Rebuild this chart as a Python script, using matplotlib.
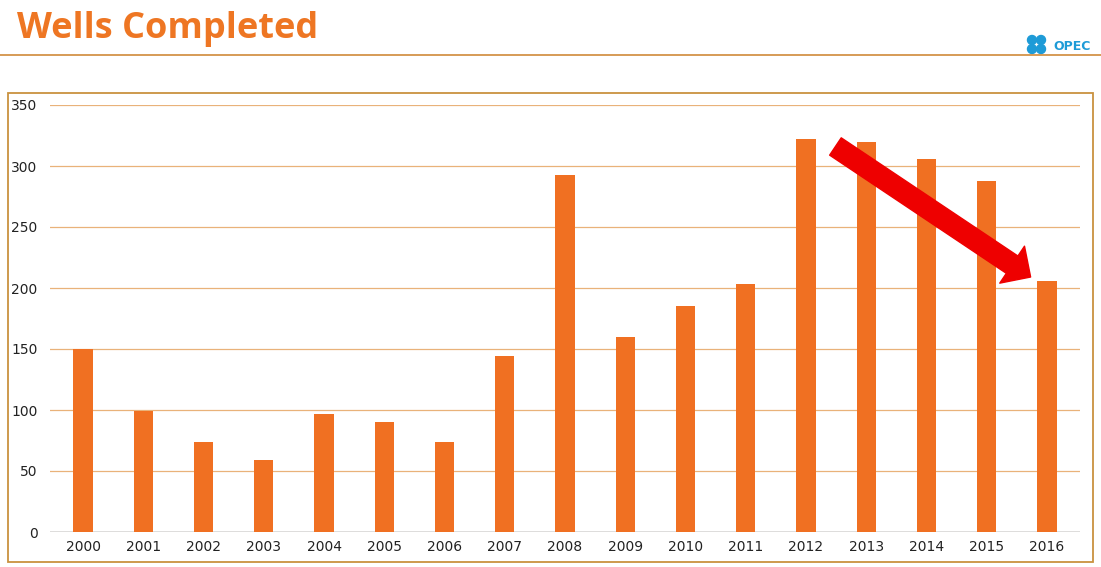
import matplotlib
matplotlib.use("Agg")
import matplotlib.pyplot as plt
import matplotlib.patches as mpatches
from matplotlib.lines import Line2D

# datos
anios = ["2000", "2001", "2002", "2003", "2004", "2005", "2006", "2007", "2008",
         "2009", "2010", "2011", "2012", "2013", "2014", "2015", "2016"]
pozos = [150, 99, 74, 59, 97, 90, 74, 144, 293, 160, 185, 203, 322, 320, 306, 288, 206]
yticks = [0, 50, 100, 150, 200, 250, 300, 350]

naranja = "#F07022"
W, H = 1101, 567

fig = plt.figure(figsize=(W / 100, H / 100), dpi=100)
fig.patch.set_facecolor("white")

# titulo y linea del encabezado
fig.text(17 / W, 1 - 29 / H, "Wells Completed", color="#EE7623", fontsize=26,
         fontweight="bold", fontfamily="Open Sans", ha="left", va="center")
fig.add_artist(Line2D([0, 1], [1 - 55 / H, 1 - 55 / H], color="#D08A3A", lw=1.2,
                      transform=fig.transFigure))

# logo OPEC (simplificado), en pulgadas
for dx, dy in [(0, 0), (9, 0), (0, 9), (9, 9)]:
    fig.add_artist(mpatches.Circle(((1032 + dx) / 100, (H - 40 - dy) / 100), 0.045,
                                   color="#1E9BD7", transform=fig.dpi_scale_trans))
fig.text(1053 / W, 1 - 46 / H, "OPEC", color="#1E9BD7", fontsize=9,
         fontweight="bold", ha="left", va="center")

# marco del grafico
fig.add_artist(mpatches.Rectangle((8 / W, 1 - 562 / H), (1093 - 8) / W, (562 - 93) / H,
                                  fill=False, edgecolor="#C9923F", lw=1.3,
                                  transform=fig.transFigure))

ax = fig.add_axes([50 / W, 1 - 532 / H, (1080 - 50) / W, (532 - 105) / H])
x = range(len(anios))
ax.bar(x, pozos, width=0.32, color=naranja, zorder=3)
ax.set_xlim(-0.55, len(anios) - 0.45)
ax.set_ylim(0, 350)
ax.set_yticks(yticks)
ax.set_xticks(list(x))
ax.set_xticklabels(anios)
ax.grid(axis="y", color="#E9B27A", lw=0.9, zorder=0)
ax.axhline(0, color="#D9D9D9", lw=1.2, zorder=2)
for s in ax.spines.values():
    s.set_visible(False)
ax.tick_params(length=0, labelsize=10, colors="#222222")
ax.tick_params(axis="y", pad=9)
ax.tick_params(axis="x", pad=6)

# flecha roja de tendencia
flecha = mpatches.FancyArrowPatch((12.49, 316), (15.73, 209),
                                  arrowstyle=mpatches.ArrowStyle.Simple(head_length=16, head_width=32, tail_width=15),
                                  mutation_scale=1, color="#EE0000", shrinkA=0, shrinkB=0, zorder=5)
ax.add_patch(flecha)

fig.savefig("out.png", dpi=100)
